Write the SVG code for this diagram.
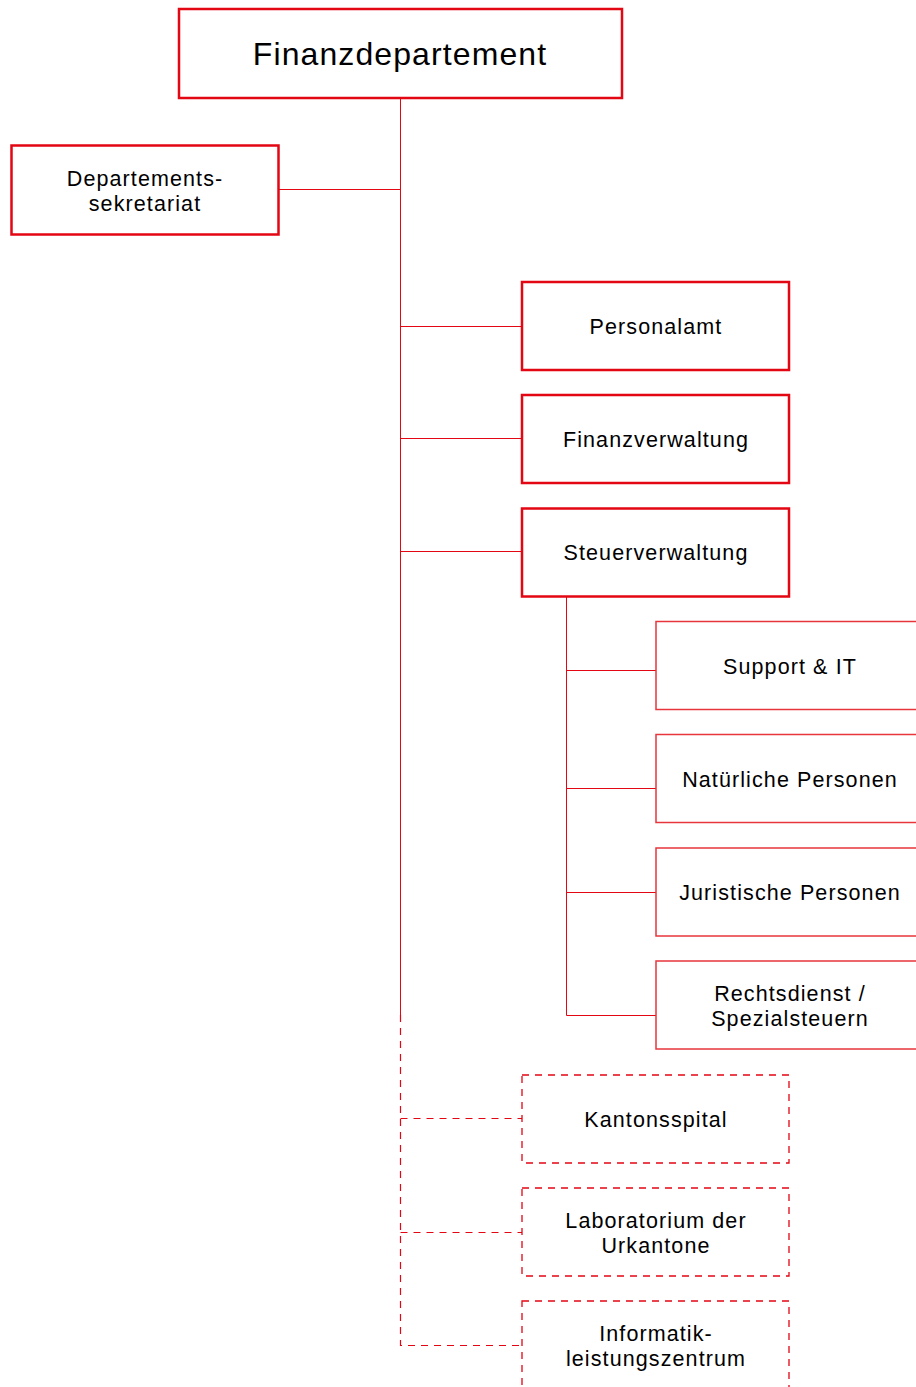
<svg xmlns="http://www.w3.org/2000/svg" width="916" height="1387" viewBox="0 0 916 1387">
<style>
.main{fill:#fff;stroke:#e30613;stroke-width:2.5}
.sub{fill:#fff;stroke:#e8343d;stroke-width:1.5}
.dash{fill:#fff;stroke:#e30613;stroke-width:1.3;stroke-dasharray:7,6}
.ln{fill:none;stroke:#e30613;stroke-width:1}
.dl{fill:none;stroke:#e30613;stroke-width:1.2;stroke-dasharray:7,6}
text{font-family:"Liberation Sans",Arial,sans-serif;font-size:21.5px;fill:#000;text-anchor:middle;letter-spacing:1.1px}
</style>
<rect width="916" height="1387" fill="#fff"/>
<g id="connectors">
<path class="ln" d="M400.5 98V1015"/>
<path class="dl" d="M400.5 1015V1345.5H522"/>
<path class="ln" d="M279 189.5H400.5"/>
<path class="ln" d="M400.5 326.5H522"/>
<path class="ln" d="M400.5 438.5H522"/>
<path class="ln" d="M400.5 551.5H522"/>
<path class="ln" d="M566.5 597V1015.5H656"/>
<path class="ln" d="M566.5 670.5H656"/>
<path class="ln" d="M566.5 788.5H656"/>
<path class="ln" d="M566.5 892.5H656"/>
<path class="dl" d="M400.5 1118.5H522"/>
<path class="dl" d="M400.5 1232.5H522"/>
</g>
<g id="finanzdepartement"><rect class="main" x="179" y="9" width="443" height="89"/><text x="400" y="65" style="font-size:32px;letter-spacing:1.1px">Finanzdepartement</text></g>
<g id="departementssekretariat"><rect class="main" x="11.5" y="145.5" width="267" height="89"/><text x="145" y="186">Departements-</text><text x="145" y="211">sekretariat</text></g>
<g id="personalamt"><rect class="main" x="522" y="282" width="267" height="88"/><text x="656" y="334">Personalamt</text></g>
<g id="finanzverwaltung"><rect class="main" x="522" y="395" width="267" height="88"/><text x="656" y="447">Finanzverwaltung</text></g>
<g id="steuerverwaltung"><rect class="main" x="522" y="508.5" width="267" height="88"/><text x="656" y="560">Steuerverwaltung</text></g>
<g id="support-it"><rect class="sub" x="656" y="621.5" width="270" height="88"/><text x="790" y="674">Support &amp; IT</text></g>
<g id="natuerliche-personen"><rect class="sub" x="656" y="734.5" width="270" height="88"/><text x="790" y="787">Natürliche Personen</text></g>
<g id="juristische-personen"><rect class="sub" x="656" y="848" width="270" height="88"/><text x="790" y="900">Juristische Personen</text></g>
<g id="rechtsdienst"><rect class="sub" x="656" y="961" width="270" height="88"/><text x="790" y="1001">Rechtsdienst /</text><text x="790" y="1026">Spezialsteuern</text></g>
<g id="kantonsspital"><rect class="dash" x="522" y="1075" width="267" height="88"/><text x="656" y="1127">Kantonsspital</text></g>
<g id="laboratorium"><rect class="dash" x="522" y="1188" width="267" height="88"/><text x="656" y="1228">Laboratorium der</text><text x="656" y="1253">Urkantone</text></g>
<g id="informatik"><rect class="dash" x="522" y="1301" width="267" height="100"/><text x="656" y="1341">Informatik-</text><text x="656" y="1366">leistungszentrum</text></g>
</svg>
